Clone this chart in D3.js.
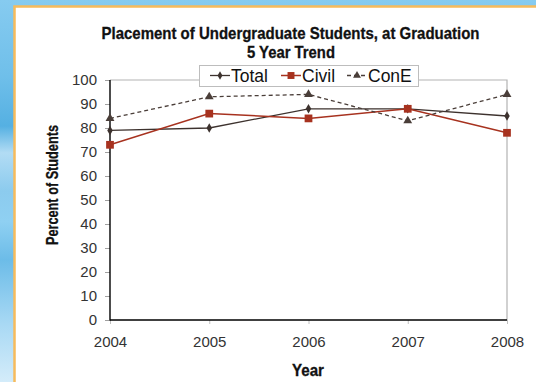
<!DOCTYPE html>
<html>
<head>
<meta charset="utf-8">
<script src="https://cdn.jsdelivr.net/npm/d3@7"></script>
<style>
  html, body { margin: 0; padding: 0; background: #fff; }
  svg { display: block; }
</style>
</head>
<body>
<svg id="chart" width="536" height="382"></svg>
<script>
// Placement data, percent of students placed at graduation
const years = ["2004", "2005", "2006", "2007", "2008"];
const total = [79, 80, 88, 88, 85];
const civil = [73, 86, 84, 88, 78];
const cone  = [84, 93, 94, 83, 94];
const yTicks = [0, 10, 20, 30, 40, 50, 60, 70, 80, 90, 100];
const seriesNames = ["Total", "Civil", "ConE"];

const svg = d3.select("#chart");
const W = 536, H = 382;

// Sky-blue backdrop
const defs = svg.append("defs");
const grad = defs.append("linearGradient").attr("id", "sky")
  .attr("x1", 0).attr("y1", 0).attr("x2", 0).attr("y2", 1);
[[0, "#86cbf0"], [0.2, "#6fbfea"], [0.33, "#55b0e2"], [0.4, "#b2dcf4"],
 [0.5, "#8ccbee"], [0.58, "#8fd0f2"], [0.68, "#6cbce8"], [0.85, "#a9d9f4"], [1, "#d4ecfa"]]
  .forEach(([o, c]) => grad.append("stop").attr("offset", o).attr("stop-color", c));
svg.append("rect").attr("width", W).attr("height", H).attr("fill", "url(#sky)");

// White card with a gold edge
svg.append("rect").attr("x", 14).attr("y", 6).attr("width", W).attr("height", H)
  .attr("fill", "#fff");
svg.append("path").attr("d", `M14.5,${H} V6.5 H${W}`)
  .attr("fill", "none").attr("stroke", "#f6bb5c").attr("stroke-width", 2.5);

const plot = { left: 110, right: 507, top: 80, bottom: 320 };
const x = d3.scalePoint().domain(years).range([plot.left, plot.right]);
const y = d3.scaleLinear().domain([0, 100]).range([plot.bottom, plot.top]);

const sans = "'Liberation Sans', Arial, Helvetica, sans-serif";

// Plot frame: light top/right, black axes
svg.append("path")
  .attr("d", `M${plot.left},${plot.top} H${plot.right} V${plot.bottom}`)
  .attr("fill", "none").attr("stroke", "#b3b3b3").attr("stroke-width", 1.2);

// Y axis
const yAxis = svg.append("g").attr("transform", `translate(${plot.left},0)`)
  .call(d3.axisLeft(y).tickValues(yTicks).tickSize(5).tickPadding(8));
yAxis.select(".domain").remove();
yAxis.selectAll(".tick line").attr("stroke", "#a0a0a0");
yAxis.selectAll(".tick text").style("font-family", sans).style("font-size", "15px")
  .attr("fill", "#333");

// X axis
const xAxis = svg.append("g").attr("transform", `translate(0,${plot.bottom})`)
  .call(d3.axisBottom(x).tickSize(4).tickPadding(12));
xAxis.select(".domain").remove();
xAxis.selectAll(".tick line").attr("stroke", "#c0c0c0");
xAxis.selectAll(".tick text").style("font-family", sans).style("font-size", "15px")
  .attr("fill", "#333");

svg.append("line").attr("x1", plot.left).attr("x2", plot.left)
  .attr("y1", plot.top).attr("y2", plot.bottom + 0.5)
  .attr("stroke", "#000").attr("stroke-width", 1.4);
svg.append("line").attr("x1", plot.left).attr("x2", plot.right)
  .attr("y1", plot.bottom).attr("y2", plot.bottom)
  .attr("stroke", "#000").attr("stroke-width", 1.4);

// Condensed bold headings: squeeze a bold sans into the set width
function heading(txt, cx, cy, width, rotate) {
  return svg.append("text")
    .attr("transform", `translate(${cx},${cy})` + (rotate ? " rotate(-90)" : ""))
    .attr("text-anchor", "middle")
    .attr("textLength", width).attr("lengthAdjust", "spacingAndGlyphs")
    .style("font-family", sans).style("font-weight", "bold").style("font-size", "17px")
    .attr("fill", "#111").attr("stroke", "#111").attr("stroke-width", 0.3)
    .text(txt);
}
heading("Placement of Undergraduate Students, at Graduation", 290.5, 39, 378);
heading("5 Year Trend", 291, 58, 88);
heading("Year", 308, 376, 32);
heading("Percent of Students", 58, 185, 120, true);

// Series styling
const series = [
  { name: seriesNames[0], values: total, color: "#3d322e", dash: null, width: 1.3, shape: d3.symbolDiamond, size: 26 },
  { name: seriesNames[1], values: civil, color: "#a7321f", dash: null, width: 1.5, shape: d3.symbolSquare, size: 60 },
  { name: seriesNames[2], values: cone,  color: "#4a3e39", dash: "4,3", width: 1.3, shape: d3.symbolTriangle, size: 34 }
];

const line = d3.line().x((d, i) => x(years[i])).y(d => y(d));

series.forEach(s => {
  svg.append("path").datum(s.values)
    .attr("d", line).attr("fill", "none")
    .attr("stroke", s.color).attr("stroke-width", s.width)
    .attr("stroke-dasharray", s.dash);
});
series.forEach(s => {
  svg.selectAll(null).data(s.values).enter().append("path")
    .attr("transform", (d, i) => `translate(${x(years[i])},${y(d)})`)
    .attr("d", d3.symbol().type(s.shape).size(s.size))
    .attr("fill", s.color);
});

// Legend
const legend = svg.append("g");
legend.append("rect").attr("x", 199.5).attr("y", 65.5).attr("width", 219).attr("height", 21)
  .attr("fill", "#fff").attr("stroke", "#bdbdbd").attr("stroke-width", 1);
const legendX = [210, 281, 347];
series.forEach((s, i) => {
  const g = legend.append("g").attr("transform", `translate(${legendX[i]},75.5)`);
  g.append("line").attr("x1", 0).attr("x2", 20).attr("y1", 0).attr("y2", 0)
    .attr("stroke", s.color).attr("stroke-width", s.width)
    .attr("stroke-dasharray", s.dash);
  g.append("path").attr("transform", "translate(10,0)")
    .attr("d", d3.symbol().type(s.shape).size(s.size * 0.8))
    .attr("fill", s.color);
  g.append("text").attr("x", 21).attr("y", 6)
    .style("font-family", sans).style("font-size", "17.5px").attr("fill", "#111")
    .text(s.name);
});
</script>
</body>
</html>
